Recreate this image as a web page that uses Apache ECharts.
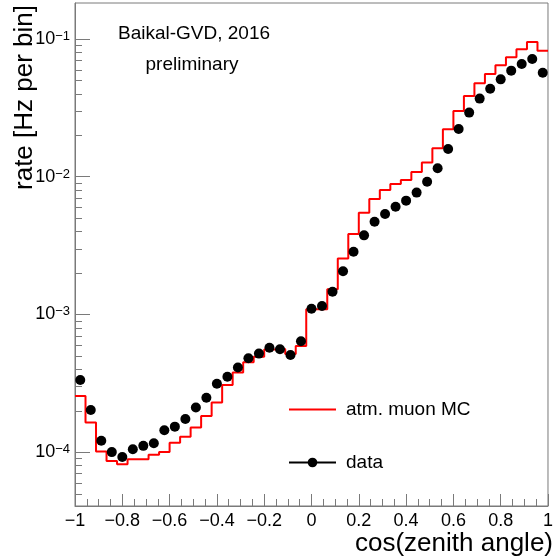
<!DOCTYPE html>
<html><head><meta charset="utf-8">
<script src="https://cdn.jsdelivr.net/npm/echarts@6/dist/echarts.min.js"></script>
<style>html,body{margin:0;padding:0;background:#fff}#c{width:556px;height:558px}</style>
</head><body><div id="c"></div>
<script>
// ---- data ----
const xMin = -1, xMax = 1, nBins = 45;
const mcRate = [
  2.55e-4, 1.64e-4, 1.01e-4, 8.6e-5, 8.15e-5, 8.87e-5, 8.87e-5, 9.58e-5, 1.0e-4, 1.17e-4,
  1.29e-4, 1.51e-4, 1.83e-4, 2.29e-4, 3.07e-4, 3.79e-4, 4.49e-4, 4.93e-4, 5.57e-4, 5.61e-4,
  5.15e-4, 5.90e-4, 1.09e-3, 1.09e-3, 1.52e-3, 2.55e-3, 3.84e-3, 5.48e-3, 6.89e-3, 8.0e-3,
  8.85e-3, 9.46e-3, 1.08e-2, 1.27e-2, 1.61e-2, 2.21e-2, 3.0e-2, 3.86e-2, 4.77e-2, 5.57e-2,
  6.44e-2, 7.36e-2, 8.41e-2, 9.51e-2, 8.22e-2
];
const dataRate = [
  3.34e-4, 2.02e-4, 1.21e-4, 1.0e-4, 9.2e-5, 1.05e-4, 1.11e-4, 1.16e-4, 1.44e-4, 1.53e-4,
  1.74e-4, 2.11e-4, 2.48e-4, 3.14e-4, 3.53e-4, 4.11e-4, 4.80e-4, 5.19e-4, 5.73e-4, 5.58e-4,
  5.07e-4, 6.38e-4, 1.10e-3, 1.15e-3, 1.46e-3, 2.06e-3, 2.85e-3, 3.75e-3, 4.71e-3, 5.35e-3,
  6.05e-3, 6.70e-3, 7.66e-3, 9.2e-3, 1.15e-2, 1.59e-2, 2.22e-2, 2.92e-2, 3.69e-2, 4.35e-2,
  5.09e-2, 5.89e-2, 6.58e-2, 7.16e-2, 5.69e-2
];
const yMin = 4.06e-5, yMax = 0.1825;
const yMinorTicks = [
  5e-5, 6e-5, 7e-5, 8e-5, 9e-5,
  2e-4, 3e-4, 4e-4, 5e-4, 6e-4, 7e-4, 8e-4, 9e-4,
  2e-3, 3e-3, 4e-3, 5e-3, 6e-3, 7e-3, 8e-3, 9e-3,
  2e-2, 3e-2, 4e-2, 5e-2, 6e-2, 7e-2, 8e-2, 9e-2
];
const seriesNames = ['atm. muon MC', 'data'];
const xTitle = 'cos(zenith angle)';
const yTitle = 'rate [Hz per bin]';
const noteLines = ['Baikal-GVD, 2016', 'preliminary'];

// ---- derived ----
const binW = (xMax - xMin) / nBins;
const edges = Array.from({length: nBins + 1}, (_, k) => xMin + k * binW);
const mcSteps = mcRate.map((v, i) => [edges[i], v]).concat([[edges[nBins], mcRate[nBins - 1]]]);
const dataPts = dataRate.map((v, i) => [(edges[i] + edges[i + 1]) / 2, v]);

const FONT = '"Liberation Sans", Arial, Helvetica, sans-serif';
const GRAY = '#7a7a7a';

const chart = echarts.init(document.getElementById('c'), null, {renderer: 'canvas'});
chart.setOption({
  animation: false,
  backgroundColor: '#fff',
  textStyle: {fontFamily: FONT},
  grid: {left: 75, top: 3, right: 4, bottom: 52, show: true, borderColor: GRAY, borderWidth: 1, backgroundColor: 'transparent'},
  xAxis: {
    type: 'value', min: xMin, max: xMax, interval: 0.2,
    axisLine: {show: true, onZero: false, lineStyle: {color: GRAY, width: 1}},
    axisTick: {show: true, inside: true, length: 12, lineStyle: {color: GRAY}},
    minorTick: {show: true, splitNumber: 4, length: 7, lineStyle: {color: GRAY}},
    splitLine: {show: false},
    axisLabel: {
      margin: 6, fontSize: 18, color: '#000', fontFamily: FONT,
      formatter: v => { const r = Math.round(v * 10) / 10; return (r < 0 ? '\u2212' : '') + String(Math.abs(r)); }
    }
  },
  yAxis: {
    type: 'log', logBase: 10, min: yMin, max: yMax,
    axisLine: {show: true, onZero: false, lineStyle: {color: GRAY, width: 1}},
    axisTick: {show: true, inside: true, length: 15, lineStyle: {color: GRAY}},
    splitLine: {show: false},
    axisLabel: {
      margin: 5, showMinLabel: false, showMaxLabel: false, color: '#000',
      formatter: v => {
        const e = Math.log10(v);
        if (Math.abs(e - Math.round(e)) > 1e-6) return '';
        const n = Math.round(e);
        return '{b|10}{s|' + (n < 0 ? '\u2212' : '') + Math.abs(n) + '}';
      },
      rich: {
        b: {fontSize: 18, fontFamily: FONT, color: '#000', verticalAlign: 'bottom', lineHeight: 18, padding: [5, 0, 0, 0]},
        s: {fontSize: 13, fontFamily: FONT, color: '#000', verticalAlign: 'top', lineHeight: 13}
      }
    }
  },
  legend: {
    orient: 'vertical', left: 288, top: 400, padding: 0,
    itemWidth: 47, itemHeight: 12, itemGap: 34,
    textStyle: {fontSize: 19, fontFamily: FONT, color: '#000', padding: [0, 0, 0, 5]},
    data: [
      {name: seriesNames[0], itemStyle: {opacity: 0}},
      {name: seriesNames[1], lineStyle: {opacity: 1, width: 2, color: '#000'}}
    ]
  },
  series: [
    {
      name: seriesNames[0], type: 'line', step: 'end', data: mcSteps,
      symbol: 'none', lineStyle: {color: '#ff0000', width: 2}, itemStyle: {color: '#ff0000'}, z: 3
    },
    {
      name: seriesNames[1], type: 'line', data: dataPts,
      symbol: 'circle', symbolSize: 10, showSymbol: true,
      lineStyle: {opacity: 0, width: 2, color: '#000'}, itemStyle: {color: '#000'}, z: 4
    },
    {
      type: 'custom', silent: true, z: 2,
      data: yMinorTicks.map(v => [xMin, v]),
      renderItem: (params, api) => {
        const p = api.coord([api.value(0), api.value(1)]);
        const y = Math.round(p[1]) + 0.5;
        return {type: 'line', shape: {x1: p[0], y1: y, x2: p[0] + 7, y2: y}, style: {stroke: GRAY, lineWidth: 1}};
      }
    }
  ],
  graphic: [
    {type: 'text', x: 194, y: 34, style: {text: noteLines[0], font: '19px ' + FONT, fill: '#000', textAlign: 'center', textVerticalAlign: 'middle'}},
    {type: 'text', x: 192, y: 65, style: {text: noteLines[1], font: '19px ' + FONT, fill: '#000', textAlign: 'center', textVerticalAlign: 'middle'}},
    {type: 'text', x: 553, y: 544, style: {text: xTitle, font: '26px ' + FONT, fill: '#000', textAlign: 'right', textVerticalAlign: 'middle'}},
    {type: 'text', x: 25, y: 5, rotation: Math.PI / 2, style: {text: yTitle, font: '26px ' + FONT, fill: '#000', textAlign: 'right', textVerticalAlign: 'middle'}}
  ]
});
</script>
</body></html>
